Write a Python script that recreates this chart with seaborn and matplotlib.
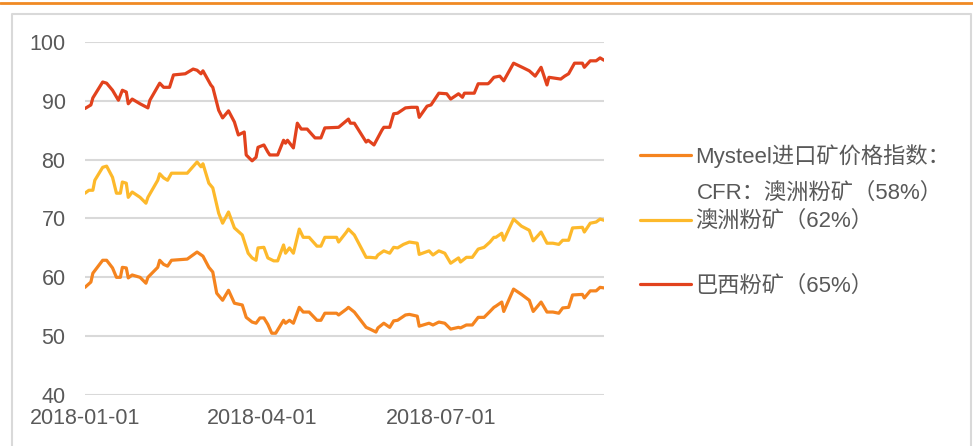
import numpy as np
import pandas as pd
import matplotlib
matplotlib.use('Agg')
import matplotlib.pyplot as plt
from matplotlib.lines import Line2D
import seaborn as sns

# days since 2018-01-01 and index values
days_65 = [0, 3, 4, 9, 11, 14, 17, 19, 21, 22, 24, 28, 32, 33, 38, 40, 43, 45, 51, 55, 57, 59, 60, 64, 65,
           68, 70, 73, 76, 78, 81, 82, 85, 87, 88, 91, 93, 94, 98, 101, 102, 103, 106, 108, 110, 113, 117,
           120, 122, 129, 134, 135, 137, 143, 144, 147, 151, 152, 155, 157, 159, 163, 166, 169, 170, 174,
           176, 180, 184, 186, 190, 192, 193, 198, 200, 205, 206, 208, 211, 213, 218, 223, 226, 229, 232,
           235, 236, 242, 244, 246, 249, 253, 254, 257, 260, 262, 264]
brazil_65 = [88.7, 89.3, 90.5, 93.2, 93.0, 91.8, 90.1, 91.8, 91.5, 89.5, 90.3, 89.5, 88.8, 90.1, 93.0, 92.3,
             92.3, 94.4, 94.6, 95.4, 95.2, 94.6, 95.1, 92.7, 92.3, 88.4, 87.1, 88.3, 86.4, 84.2, 84.7, 80.8,
             79.8, 80.4, 82.1, 82.5, 81.3, 80.8, 80.8, 83.3, 82.8, 83.3, 82.0, 86.2, 85.2, 85.2, 83.7, 83.7,
             85.4, 85.5, 86.9, 86.2, 86.2, 83.0, 83.3, 82.5, 85.0, 85.5, 85.5, 87.8, 87.9, 88.8, 88.9, 88.9,
             87.2, 89.1, 89.3, 91.3, 91.2, 90.3, 91.2, 90.6, 91.3, 91.3, 92.9, 92.9, 93.2, 94.0, 94.2, 93.4,
             96.4, 95.6, 95.1, 94.2, 95.7, 92.7, 94.0, 93.7, 94.2, 94.6, 96.4, 96.4, 95.7, 96.8, 96.8, 97.3,
             96.9]

days_62 = [0, 2, 4, 5, 9, 11, 14, 16, 18, 19, 21, 22, 24, 28, 31, 32, 37, 38, 40, 42, 44, 52, 57, 59, 60,
           63, 65, 68, 70, 73, 76, 80, 83, 85, 87, 88, 91, 93, 96, 98, 101, 102, 104, 106, 109, 111, 114,
           118, 120, 122, 128, 129, 133, 134, 137, 143, 145, 148, 149, 152, 155, 157, 159, 162, 165, 169,
           170, 175, 177, 180, 183, 186, 190, 191, 194, 197, 200, 203, 206, 208, 209, 212, 213, 218, 222,
           226, 228, 232, 235, 238, 241, 243, 246, 248, 253, 254, 257, 260, 262, 264]
aus_62 = [74.3, 74.8, 74.8, 76.5, 78.7, 78.9, 77.0, 74.3, 74.3, 76.2, 76.0, 73.6, 74.5, 73.6, 72.6, 73.6,
          76.5, 77.6, 76.9, 76.5, 77.7, 77.7, 79.6, 78.8, 79.3, 76.0, 75.2, 70.9, 69.2, 71.1, 68.4, 67.2,
          64.1, 63.3, 62.9, 65.0, 65.1, 63.3, 62.8, 62.8, 65.5, 64.1, 65.0, 64.1, 68.2, 66.8, 66.8, 65.3,
          65.3, 66.8, 66.8, 66.0, 67.7, 68.2, 67.2, 63.4, 63.4, 63.3, 63.8, 64.5, 64.1, 65.1, 65.0, 65.6,
          66.0, 65.8, 63.9, 64.5, 63.8, 64.5, 64.1, 62.4, 63.3, 62.6, 63.4, 63.4, 64.8, 65.1, 66.0, 66.8,
          66.8, 67.5, 66.3, 69.9, 68.7, 68.0, 66.2, 67.7, 65.8, 65.8, 65.6, 66.3, 66.3, 68.4, 68.5, 67.7,
          69.2, 69.4, 69.9, 69.7]

days_58 = [0, 3, 4, 9, 11, 14, 16, 18, 19, 21, 22, 24, 28, 31, 32, 37, 38, 40, 42, 44, 52, 57, 60, 63, 65,
           67, 70, 73, 76, 80, 82, 85, 87, 89, 91, 93, 95, 97, 101, 102, 104, 106, 109, 111, 114, 118, 120,
           122, 128, 129, 133, 134, 137, 143, 145, 148, 149, 152, 155, 157, 159, 163, 165, 169, 170, 175,
           177, 180, 183, 186, 190, 191, 194, 197, 200, 203, 206, 208, 209, 212, 213, 218, 222, 226, 228,
           232, 235, 238, 241, 243, 246, 248, 253, 254, 257, 260, 262, 264]
aus_58 = [58.3, 59.2, 60.7, 62.9, 62.9, 61.6, 60.0, 60.0, 61.7, 61.6, 59.9, 60.4, 60.0, 59.0, 60.0, 61.7,
          62.9, 62.2, 61.9, 62.9, 63.1, 64.3, 63.6, 61.7, 60.9, 57.3, 56.1, 57.8, 55.6, 55.3, 53.2, 52.4,
          52.2, 53.1, 53.1, 52.0, 50.5, 50.5, 52.7, 52.2, 52.7, 52.2, 54.9, 54.1, 54.1, 52.7, 52.7, 53.9,
          53.9, 53.6, 54.6, 54.9, 54.1, 51.5, 51.2, 50.7, 51.4, 52.2, 51.5, 52.6, 52.7, 53.6, 53.7, 53.4,
          51.7, 52.2, 51.9, 52.4, 52.2, 51.2, 51.5, 51.4, 51.9, 51.9, 53.2, 53.2, 54.2, 54.9, 55.1, 55.8,
          54.2, 58.0, 57.1, 56.1, 54.2, 55.8, 54.1, 54.1, 53.9, 54.8, 54.9, 57.0, 57.1, 56.5, 57.7, 57.7,
          58.3, 58.2]

labels = ['Mysteel进口矿价格指数：\nCFR：澳洲粉矿（58%）', '澳洲粉矿（62%）', '巴西粉矿（65%）']
colors = ['#f5841f', '#fdb92b', '#e2421d']
start = pd.Timestamp('2018-01-01')

frames = []
for d, v, lab in zip([days_58, days_62, days_65], [aus_58, aus_62, brazil_65], labels):
    frames.append(pd.DataFrame({'date': start + pd.to_timedelta(d, unit='D'), 'value': v, 'series': lab}))
df = pd.concat(frames, ignore_index=True)

sns.set_theme(style='white')
plt.rcParams['font.family'] = ['Liberation Sans', 'Noto Sans CJK SC', 'DejaVu Sans']

fig = plt.figure(figsize=(9.73, 4.46), dpi=100)
ax = fig.add_axes([85 / 973, 1 - 395 / 446, (604 - 85) / 973, (395 - 42) / 446])

sns.lineplot(data=df, x='date', y='value', hue='series', hue_order=labels,
             palette=dict(zip(labels, colors)), estimator=None, linewidth=2.3, legend=False, ax=ax)

grey = '#595959'
ax.set_ylim(40, 100)
ax.set_yticks(range(40, 101, 10))
ax.set_xlim(start, start + pd.Timedelta(days=264))
ax.set_xticks(pd.to_datetime(['2018-01-01', '2018-04-01', '2018-07-01']))
ax.xaxis.set_major_formatter(matplotlib.dates.DateFormatter('%Y-%m-%d'))
ax.yaxis.grid(True, color='#d9d9d9', linewidth=1.5)
ax.set_axisbelow(True)
for s in ax.spines.values():
    s.set_visible(False)
ax.tick_params(axis='y', length=0, pad=14, labelsize=15.5, labelcolor=grey)
ax.tick_params(axis='x', length=5, width=1.5, color='#d9d9d9', pad=4, labelsize=15.5, labelcolor=grey)
ax.set_xlabel('')
ax.set_ylabel('')

# legend, the first label runs over two lines
handles = [Line2D([], [], color=c, linewidth=2.3) for c in colors]
leg_labels = ['Mysteel进口矿价格指数：', labels[1], labels[2]]
leg = fig.legend(handles, leg_labels, loc='upper left', bbox_to_anchor=(640 / 973, 1 - 144 / 446),
                 frameon=False, fontsize=16, handlelength=2.3, handletextpad=0.2,
                 labelspacing=1.95, borderpad=0, borderaxespad=0, labelcolor=grey)
fig.text(697 / 973, 1 - 193 / 446, 'CFR：澳洲粉矿（58%）', fontsize=16, color=grey, va='center')

# frame of the panel
fig.add_artist(Line2D([0, 1], [1 - 3 / 446, 1 - 3 / 446], color='#f08a24', linewidth=2, transform=fig.transFigure))
fig.add_artist(Line2D([12 / 973, 12 / 973, 971 / 973, 971 / 973], [0, 1 - 14 / 446, 1 - 14 / 446, 0],
                      color='#d9d9d9', linewidth=1.5, transform=fig.transFigure))

fig.savefig('out.png', dpi=100)
